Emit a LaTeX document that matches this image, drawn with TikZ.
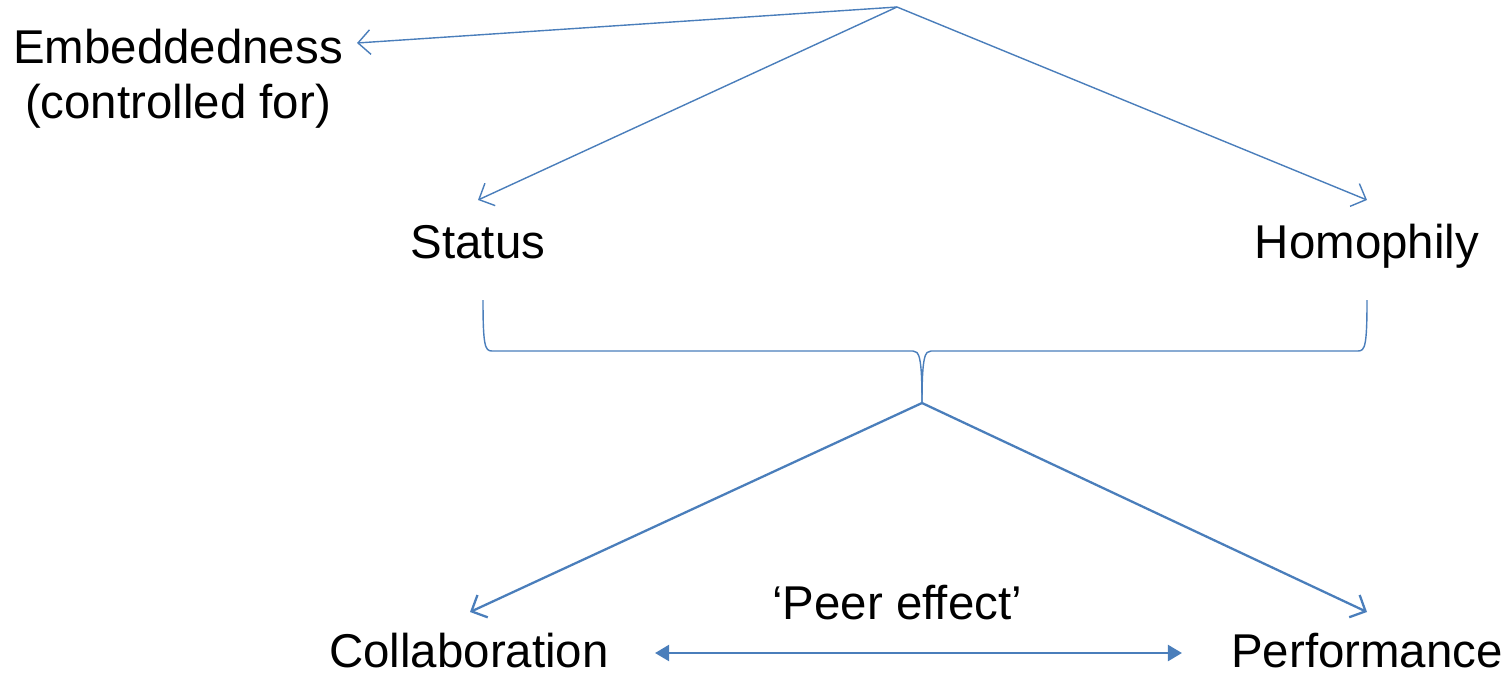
\documentclass[tikz,border=0pt]{standalone}
\usepackage{fontspec}
\setmainfont{Liberation Sans}
\usetikzlibrary{arrows.meta}
\definecolor{linkblue}{RGB}{74,126,187}

\begin{document}
\begin{tikzpicture}[x=0.02cm,y=-0.02cm,
		label/.style={font=\fontsize{27}{31.3}\selectfont, anchor=base, inner sep=0pt},
		thin link/.style={draw=linkblue, line width=0.8pt, -{Straight Barb[length=7pt,width=14pt]}},
		thick link/.style={draw=linkblue, line width=1.3pt, -{Straight Barb[length=7pt,width=14pt]}},
		peer link/.style={draw=linkblue, line width=1.6pt, {Triangle[length=8pt,width=9pt]}-{Triangle[length=8pt,width=9pt]}}]
	\useasboundingbox (0,0) rectangle (1511,674);
	% text
	\node[label, align=center] (embed) at (178,118) {Embeddedness\\(controlled for)};
	\node[label] (status) at (478,258) {Status};
	\node[label] (homophily) at (1367,258) {Homophily};
	\node[label, text depth=0pt] (collab) at (469,667) {Collaboration};
	\node[label, text depth=0pt] (perf) at (1367,667) {Performance};
	\node[label] (peer) at (897,619) {`Peer effect'};
	% top fan
	\coordinate (apex) at (897,7);
	\coordinate (embedend) at (357,43);
	\coordinate (statusend) at (478,200);
	\coordinate (homend) at (1367,200);
	\draw[thin link] (apex) -- (embedend);
	\draw[thin link] (apex) -- (statusend);
	\draw[thin link] (apex) -- (homend);
	% brace
	\coordinate (tip) at (922,403);
	\draw[linkblue, line width=0.8pt] (483,300) .. controls (483,346) and (485,351) .. (492,351)
		-- (913,351) .. controls (919,351) and (922,356) .. (tip);
	\draw[linkblue, line width=0.8pt] (1367,300) .. controls (1367,346) and (1365,351) .. (1358,351)
		-- (931,351) .. controls (925,351) and (922,356) .. (tip);
	% bottom fan
	\coordinate (collabend) at (470,612);
	\coordinate (perfend) at (1367,612);
	\draw[thick link] (tip) -- (collabend);
	\draw[thick link] (tip) -- (perfend);
	% peer effect
	\coordinate (peerl) at (655,653);
	\coordinate (peerr) at (1182,653);
	\draw[peer link] (peerl) -- (peerr);
\end{tikzpicture}
\end{document}
